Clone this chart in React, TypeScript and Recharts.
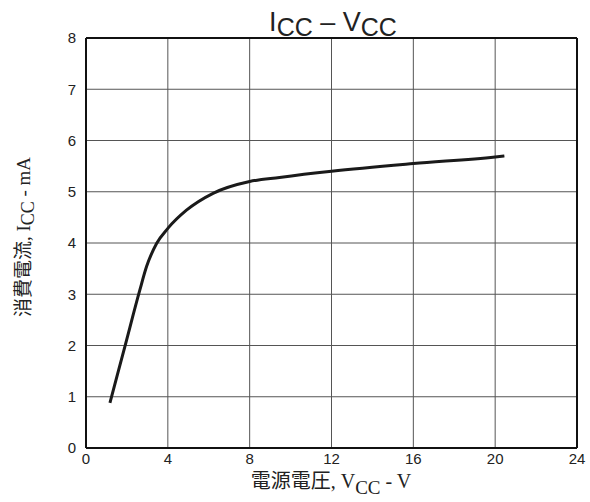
import { LineChart, Line, XAxis, YAxis, CartesianGrid, ReferenceLine } from 'recharts';

// supply voltage (V) vs supply current (mA)
const vcc = [1.17, 1.9, 2.63, 2.96, 3.45, 4.01, 4.91, 6.21, 8.0, 9.46, 12, 16, 20, 20.45];
const icc = [0.88, 1.98, 3.08, 3.54, 3.99, 4.29, 4.64, 4.97, 5.2, 5.28, 5.4, 5.55, 5.68, 5.7];

const xTicks = [0, 4, 8, 12, 16, 20, 24];
const yTicks = [0, 1, 2, 3, 4, 5, 6, 7, 8];

const data = vcc.map((v, i) => ({ vcc: v, icc: icc[i] }));

const W = 590;
const H = 502;
const sans = "'Liberation Sans', Arial, sans-serif";
const serif = "'Liberation Serif', 'Noto Sans CJK JP', serif";

export default function App() {
  return (
    <div style={{ position: 'absolute', left: 0, top: 0, width: W, height: H, background: '#fff' }}>
      <LineChart width={W} height={H} data={data} margin={{ top: 38, right: 13, left: 0, bottom: 0 }}>
        <CartesianGrid stroke="#555" strokeWidth={1} horizontalValues={yTicks} verticalValues={xTicks} />
        <XAxis
          dataKey="vcc"
          type="number"
          domain={[0, 24]}
          ticks={xTicks}
          height={54}
          tickSize={0}
          tickMargin={5}
          tickLine={false}
          axisLine={{ stroke: '#111', strokeWidth: 2 }}
          tick={{ fill: '#222', fontSize: 15, fontFamily: sans }}
          interval={0}
        />
        <YAxis
          type="number"
          domain={[0, 8]}
          ticks={yTicks}
          width={86}
          tickSize={0}
          tickMargin={10}
          tickLine={false}
          axisLine={{ stroke: '#111', strokeWidth: 2 }}
          tick={{ fill: '#222', fontSize: 15, fontFamily: sans }}
          interval={0}
        />
        <ReferenceLine y={8} stroke="#111" strokeWidth={2} />
        <ReferenceLine x={24} stroke="#111" strokeWidth={2} />
        <Line
          dataKey="icc"
          type="monotone"
          stroke="#1a1a1a"
          strokeWidth={3}
          dot={false}
          activeDot={false}
          isAnimationActive={false}
        />
      </LineChart>
      <svg
        width={W}
        height={H}
        style={{ position: 'absolute', left: 0, top: 0, pointerEvents: 'none' }}
      >
        <text x={333} y={31} textAnchor="middle" fontFamily={sans} fontSize={27} fill="#222">
          I
          <tspan fontSize={25} dy={5}>CC</tspan>
          <tspan dy={-5}> – V</tspan>
          <tspan fontSize={25} dy={5}>CC</tspan>
        </text>
        <text x={331} y={488} textAnchor="middle" fontFamily={serif} fontSize={20} fill="#222">
          電源電圧, V
          <tspan fontSize={19} dy={6}>CC</tspan>
          <tspan dy={-6}> - V</tspan>
        </text>
        <text
          x={0}
          y={0}
          transform="translate(30,237) rotate(-90)"
          textAnchor="middle"
          fontFamily={serif}
          fontSize={19}
          fill="#222"
        >
          消費電流, I
          <tspan fontSize={18} dy={4}>CC</tspan>
          <tspan dy={-4}> - mA</tspan>
        </text>
      </svg>
    </div>
  );
}
